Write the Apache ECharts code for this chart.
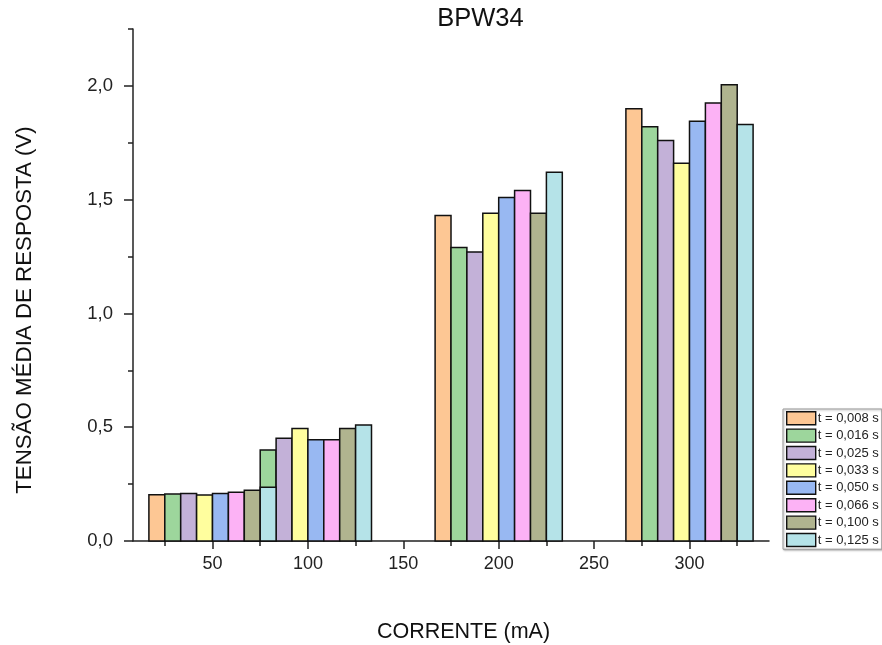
<!DOCTYPE html>
<html>
<head>
<meta charset="utf-8">
<script src="https://cdn.jsdelivr.net/npm/echarts@6/dist/echarts.min.js"></script>
<style>html,body{margin:0;padding:0;background:#fff;}#c{width:882px;height:645px;}</style>
</head>
<body>
<div id="c"></div>
<script>
// Data
const groups = [50, 100, 200, 300];
const seriesNames = ['t = 0,008 s','t = 0,016 s','t = 0,025 s','t = 0,033 s','t = 0,050 s','t = 0,066 s','t = 0,100 s','t = 0,125 s'];
const v008 = [0.203, 0.21, 1.43, 1.90];
const v016 = [0.206, 0.40, 1.29, 1.82];
const v025 = [0.209, 0.451, 1.27, 1.76];
const v033 = [0.202, 0.494, 1.44, 1.66];
const v050 = [0.209, 0.445, 1.51, 1.845];
const v066 = [0.214, 0.445, 1.54, 1.925];
const v100 = [0.223, 0.494, 1.44, 2.005];
const v125 = [0.236, 0.510, 1.62, 1.83];
const allValues = [v008, v016, v025, v033, v050, v066, v100, v125];
const xTicks = [50, 100, 150, 200, 250, 300];
const xMinorTicks = [25, 75, 125, 175, 225, 275, 325];
const yTicks = [0, 0.5, 1.0, 1.5, 2.0];
const yMinorTicks = [0.25, 0.75, 1.25, 1.75, 2.25];

const colors = ['#FDC794','#9DD69C','#C3B1D8','#FFFE9E','#98B8F2','#FCB2F5','#B0B48F','#B5E3E8'];
const BW = 50 / 6; // bar width in mA
const FONT = '"Liberation Sans", Arial, sans-serif';

const series = allValues.map((vals, i) => ({
  name: seriesNames[i],
  type: 'custom',
  xAxisIndex: 0, yAxisIndex: 0,
  itemStyle: { color: colors[i], borderColor: '#000', borderWidth: 1.4 },
  data: groups.map((g, j) => [g + (i - 3.5) * BW, vals[j]]),
  renderItem: function (params, api) {
    const x = api.value(0), y = api.value(1);
    const p0 = api.coord([x - BW / 2, y]);
    const p1 = api.coord([x + BW / 2, 0]);
    return {
      type: 'rect',
      shape: { x: p0[0], y: p0[1], width: p1[0] - p0[0], height: p1[1] - p0[1] },
      style: { fill: colors[i], stroke: '#111', lineWidth: 1.5 }
    };
  }
}));

const fmt = v => v.toFixed(1).replace('.', ',');

const option = {
  animation: false,
  color: colors,
  grid: { left: 133, right: 113, top: 29, bottom: 104, containLabel: false },
  xAxis: [{
    type: 'value', min: 8.3333, max: 341.6667,
    axisLine: { show: true, lineStyle: { color: '#222', width: 1.5 } },
    axisTick: { show: true, length: 8, customValues: xTicks, lineStyle: { color: '#222', width: 1.5 } },
    axisLabel: { customValues: xTicks, fontSize: 18, color: '#222', margin: 14, fontFamily: FONT },
    splitLine: { show: false }
  }, {
    type: 'value', min: 8.3333, max: 341.6667, position: 'bottom',
    axisLine: { show: false },
    axisTick: { show: true, length: 5, customValues: xMinorTicks, lineStyle: { color: '#222', width: 1.5 } },
    axisLabel: { show: false },
    splitLine: { show: false }
  }],
  yAxis: [{
    type: 'value', min: 0, max: 2.25,
    axisLine: { show: true, lineStyle: { color: '#222', width: 1.5 } },
    axisTick: { show: true, length: 9, customValues: yTicks, lineStyle: { color: '#222', width: 1.5 } },
    axisLabel: { customValues: yTicks, fontSize: 18.5, color: '#222', margin: 20, fontFamily: FONT, formatter: fmt },
    splitLine: { show: false }
  }, {
    type: 'value', min: 0, max: 2.25, position: 'left',
    axisLine: { show: false },
    axisTick: { show: true, length: 5, customValues: yMinorTicks, lineStyle: { color: '#222', width: 1.5 } },
    axisLabel: { show: false },
    splitLine: { show: false }
  }],
  legend: {
    orient: 'vertical', left: 783, top: 409,
    itemWidth: 29, itemHeight: 13, itemGap: 3,
    padding: [2, 3, 2, 3],
    icon: 'rect',
    backgroundColor: '#fff', borderColor: '#999', borderWidth: 1,
    shadowColor: 'rgba(0,0,0,0.3)', shadowBlur: 2, shadowOffsetX: 1, shadowOffsetY: 1,
    itemStyle: { borderColor: '#111', borderWidth: 1.4 },
    textStyle: { fontSize: 13, color: '#222', fontFamily: FONT, padding: [0, 0, 0, -3] },
    data: seriesNames
  },
  graphic: [
    { type: 'text', x: 480.5, y: 19, style: { text: 'BPW34', font: '25.5px ' + FONT, fill: '#111', textAlign: 'center', textVerticalAlign: 'middle' } },
    { type: 'text', x: 463.5, y: 632, style: { text: 'CORRENTE (mA)', font: '21.5px ' + FONT, fill: '#111', textAlign: 'center', textVerticalAlign: 'middle' } },
    { type: 'text', x: 25, y: 310, rotation: Math.PI / 2, style: { text: 'TENSÃO MÉDIA DE RESPOSTA (V)', font: '22.3px ' + FONT, fill: '#111', textAlign: 'center', textVerticalAlign: 'middle' } }
  ],
  series: series
};

const chart = echarts.init(document.getElementById('c'), null, { renderer: 'canvas' });
chart.setOption(option);
</script>
</body>
</html>
